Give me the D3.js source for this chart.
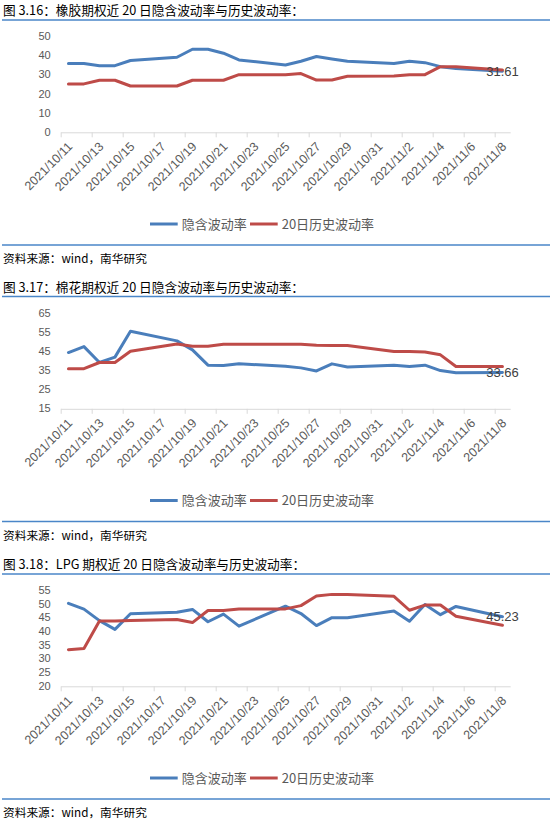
<!DOCTYPE html>
<html><head><meta charset="utf-8">
<script src="https://cdn.jsdelivr.net/npm/d3@7"></script>
<style>body{margin:0;background:#fff} svg{display:block}</style>
</head><body><svg id="c" width="550" height="819"></svg>
<script>
// ---------- data ----------
const dates = ["2021/10/11","2021/10/12","2021/10/13","2021/10/14","2021/10/15",
  "2021/10/18","2021/10/19","2021/10/20","2021/10/21","2021/10/22",
  "2021/10/25","2021/10/26","2021/10/27","2021/10/28","2021/10/29",
  "2021/11/1","2021/11/2","2021/11/3","2021/11/4","2021/11/5","2021/11/8"];
const tickLabels = ["2021/10/11","2021/10/13","2021/10/15","2021/10/17","2021/10/19",
  "2021/10/21","2021/10/23","2021/10/25","2021/10/27","2021/10/29","2021/10/31",
  "2021/11/2","2021/11/4","2021/11/6","2021/11/8"];
const axisEndDate = "2021/11/9";
const seriesNames = ["隐含波动率", "20日历史波动率"];
const titles = ["图 3.16：橡胶期权近 20 日隐含波动率与历史波动率：",
                "图 3.17：棉花期权近 20 日隐含波动率与历史波动率：",
                "图 3.18：LPG 期权近 20 日隐含波动率与历史波动率："];
const sourceText = "资料来源：wind，南华研究";

const rubberImplied = [35.6,35.6,34.5,34.5,37.2,38.9,43.1,43.1,41.0,37.5,34.9,36.8,39.3,38.0,36.8,35.6,36.8,36.1,34.0,33.0,31.61];
const rubberHist    = [25.0,25.0,26.9,26.9,23.9,23.9,26.9,26.9,26.9,29.8,29.8,30.4,27.0,27.0,29.0,29.1,29.8,29.8,34.0,33.9,32.3];
const cottonImplied = [44.1,47.2,38.9,41.7,55.2,50.2,45.5,37.5,37.3,38.2,37.0,36.1,34.5,38.2,36.6,37.5,36.8,37.5,34.7,33.5,33.66];
const cottonHist    = [35.7,35.7,38.9,38.9,44.8,48.6,47.4,47.4,48.4,48.4,48.4,48.4,47.9,47.8,47.8,44.6,44.6,44.4,42.9,36.8,36.8];
const lpgImplied    = [50.1,48.0,43.8,40.6,46.3,46.9,47.9,43.4,46.2,41.8,49.1,46.4,42.0,44.9,44.9,47.3,43.6,49.7,46.0,49.0,45.23];
const lpgHist       = [33.2,33.6,43.7,43.7,43.9,44.2,43.1,47.5,47.5,48.1,48.1,49.3,52.8,53.4,53.4,52.7,47.6,49.5,49.5,45.4,42.1];

const rubberTicks = [0,10,20,30,40,50];
const cottonTicks = [15,25,35,45,55,65];
const lpgTicks    = [20,25,30,35,40,45,50,55];

// ---------- layout ----------
const BLUE = "#4A7EBB", RED = "#BE4B48", GRAY = "#595959";
const panelTops = [0, 276.5, 554];
const L = {titleY: 10.6, ruleY: 20, plotTop: 36, plotBottom: 131.8, legendY: 224, sepY: 245, sourceY: 259,
           x0: 60.7, x1: 510.2};

const parse = d3.utcParse("%Y/%m/%d");
const dateObjs = dates.map(parse);
const tickDates = tickLabels.map(parse);

const x = d3.scaleUtc().domain([parse(tickLabels[0]), parse(axisEndDate)]).range([L.x0, L.x1]);
const xc = d => x(d3.utcHour.offset(d, 12));

const svg = d3.select("#c");
const cjk = "'Noto Sans CJK SC','Noto Sans',sans-serif";
const sans = "'Liberation Sans',Arial,sans-serif";

const panels = [
  {title: titles[0], implied: rubberImplied, hist: rubberHist, ticks: rubberTicks},
  {title: titles[1], implied: cottonImplied, hist: cottonHist, ticks: cottonTicks},
  {title: titles[2], implied: lpgImplied, hist: lpgHist, ticks: lpgTicks}
];

panels.forEach((p, i) => {
  const g = svg.append("g").attr("transform", `translate(0,${panelTops[i]})`);
  // title
  g.append("text").attr("x", 3).attr("y", L.titleY).attr("dy", "0.36em")
    .style("font-family", cjk).style("font-size", "12.7px").attr("fill", "#000").text(p.title);
  g.append("line").attr("x1", 2).attr("x2", 550).attr("y1", L.ruleY).attr("y2", L.ruleY)
    .attr("stroke", "#4A86C8").attr("stroke-width", 1.5);

  const y = d3.scaleLinear().domain(d3.extent(p.ticks)).range([L.plotBottom, L.plotTop]);

  // y labels (no axis line)
  const ya = g.append("g").attr("transform", `translate(${L.x0 - 10},0)`)
    .call(d3.axisLeft(y).tickValues(p.ticks).tickSize(0).tickPadding(0).tickFormat(d3.format("d")));
  ya.select(".domain").remove();
  ya.selectAll("text").style("font-family", sans).style("font-size", "11px").attr("fill", GRAY);

  // x axis
  const xa = g.append("g").attr("transform", `translate(0,${L.plotBottom + 0.5})`)
    .call(d3.axisBottom(x).tickValues(tickDates).tickSizeInner(5).tickSizeOuter(0)
      .tickFormat((d, k) => tickLabels[k]));
  xa.select(".domain").attr("stroke", "#D9D9D9");
  xa.selectAll(".tick line").attr("stroke", "#D9D9D9");
  xa.selectAll(".tick text")
    .attr("y", 0).attr("dy", "0.35em")
    .attr("transform", "translate(9,12) rotate(-45)")
    .style("text-anchor", "end")
    .style("font-family", sans).style("font-size", "12.5px").attr("fill", GRAY);

  // lines
  const line = d3.line().x((d, k) => xc(dateObjs[k])).y(d => y(d));
  g.append("path").datum(p.implied).attr("d", line).attr("fill", "none")
    .attr("stroke", BLUE).attr("stroke-width", 3).attr("stroke-linejoin", "round").attr("stroke-linecap", "round");
  g.append("path").datum(p.hist).attr("d", line).attr("fill", "none")
    .attr("stroke", RED).attr("stroke-width", 3).attr("stroke-linejoin", "round").attr("stroke-linecap", "round");

  // data label on last implied value
  const last = p.implied.length - 1;
  g.append("text").attr("x", xc(dateObjs[last])).attr("y", y(p.implied[last])).attr("dy", "0.36em")
    .attr("text-anchor", "middle").style("font-family", sans).style("font-size", "13px")
    .attr("fill", "#404040").text(d3.format(".2f")(p.implied[last]));

  // legend
  const legX = [150, 250], legColors = [BLUE, RED];
  seriesNames.forEach((n, k) => {
    g.append("line").attr("x1", legX[k]).attr("x2", legX[k] + 27.7)
      .attr("y1", L.legendY).attr("y2", L.legendY).attr("stroke", legColors[k]).attr("stroke-width", 3);
    g.append("text").attr("x", legX[k] + 31.7).attr("y", L.legendY).attr("dy", "0.36em")
      .style("font-family", cjk).style("font-size", "13px").attr("fill", GRAY).text(n);
  });

  // separator and source
  g.append("line").attr("x1", 2).attr("x2", 550).attr("y1", L.sepY).attr("y2", L.sepY)
    .attr("stroke", "#4A86C8").attr("stroke-width", 1.5);
  g.append("text").attr("x", 3).attr("y", L.sourceY).attr("dy", "0.36em")
    .style("font-family", cjk).style("font-size", "11.7px").attr("fill", "#000").text(sourceText);
});
</script></body></html>
